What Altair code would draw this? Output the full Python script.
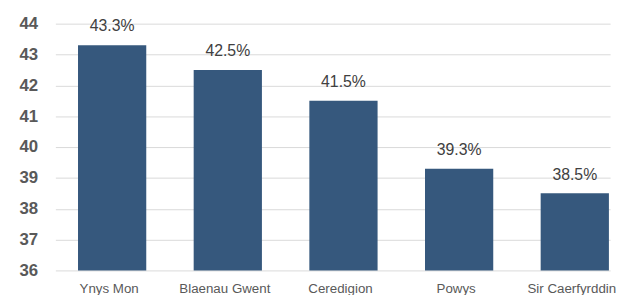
import altair as alt
import pandas as pd

areas = ["Ynys Mon", "Blaenau Gwent", "Ceredigion", "Powys", "Sir Caerfyrddin"]
values = [43.3, 42.5, 41.5, 39.3, 38.5]
labels = ["43.3%", "42.5%", "41.5%", "39.3%", "38.5%"]
y_ticks = [36, 37, 38, 39, 40, 41, 42, 43, 44]

df = pd.DataFrame({"area": areas, "value": values, "label": labels})

x = alt.X("area:N", sort=areas, title=None,
          scale=alt.Scale(paddingInner=0.41, paddingOuter=0.103, align=0.95),
          axis=alt.Axis(labelAngle=0, ticks=False, domain=False, labelPadding=11,
                        labelOffset=-3,
                        labelFontSize=13.5, labelColor="#595959", labelFont="Liberation Sans"))
y = alt.Y("value:Q", title=None,
          scale=alt.Scale(domain=[36, 44], zero=False, nice=False),
          axis=alt.Axis(values=y_ticks, ticks=False, domain=False, labelPadding=18,
                        labelOverlap=False,
                        labelFontSize=17, labelFontWeight="bold", labelColor="#595959",
                        labelFont="Liberation Sans", gridColor="#d9d9d9", gridWidth=1))

base = alt.Chart(df).encode(x=x, y=y)
bars = base.mark_bar(color="#36587d").encode(y2=alt.datum(36))
text = base.mark_text(baseline="bottom", dy=-11, fontSize=16, color="#404040",
                      font="Liberation Sans").encode(text="label:N")

chart = (bars + text).properties(
    width=562, height=250,
    autosize=alt.AutoSizeParams(type="none"),
    padding={"left": 48, "top": 14, "right": 8, "bottom": 23},
).configure_view(stroke=None)

chart.save("out.html", embed_options={"renderer": "svg", "actions": False})
